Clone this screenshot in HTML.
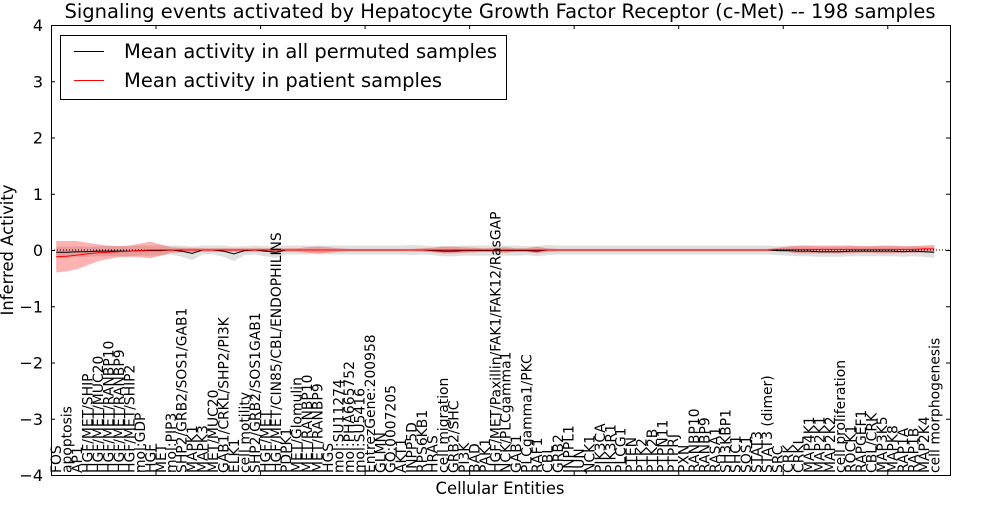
<!DOCTYPE html>
<html><head><meta charset="utf-8"><style>
body{margin:0;background:#fff}
svg{font-family:"DejaVu Sans","Liberation Sans",sans-serif}
</style></head><body>
<svg id="chart" width="1000" height="500" xmlns="http://www.w3.org/2000/svg">
<rect width="1000" height="500" fill="#fff"/>
<text x="500" y="18" font-size="19.5" text-anchor="middle">Signaling events activated by Hepatocyte Growth Factor Receptor (c-Met) -- 198 samples</text>
<g id="bands"></g>
<g id="lines"></g>
<g id="axes"></g>
<g id="xlabels"></g>
<text x="500" y="494" font-size="16.4" text-anchor="middle">Cellular Entities</text>
<text transform="translate(13,250) rotate(-90)" font-size="16.4" text-anchor="middle">Inferred Activity</text>
<g>
<rect x="60.5" y="35.5" width="446" height="64" fill="#fff" stroke="#000" stroke-width="1"/>
<line x1="74" y1="51.5" x2="104" y2="51.5" stroke="#000" stroke-width="1"/>
<text x="124" y="58" font-size="19.5">Mean activity in all permuted samples</text>
<line x1="74" y1="80.5" x2="104" y2="80.5" stroke="#f00" stroke-width="1"/>
<text x="124" y="87" font-size="19.5">Mean activity in patient samples</text>
</g>
</svg>
<script>
const categories = ["FOS","apoptosis","AP1","HGF/MET/SHIP","HGF/MET/MUC20","HGF/MET/RANBP10","HGF/MET/RANBP9","HGF/MET/SHIP2","mol:GDP","HGF",
"MET","mol:PIP3","SHP2/GRB2/SOS1/GAB1","MAPK1","MAPK3","MET/MUC20","GAB1/CRKL/SHP2/PI3K","ELK1","cell motility","SHP2/GRB2/SOS1GAB1",
"HGF/MET","HGF/MET/CIN85/CBL/ENDOPHILINS","PDPK1","MET/Glomulin","MET/RANBP10","MET/RANBP9","HGS","mol:SU11274","mol:PHA665752","mol:SU5416",
"EntrezGene:200958","GLMN","GO:0007205","AKT1","INPP5D","RPS6KB1","HRAS","cell migration","GRB2/SHC","PI3K",
"BAD","PAK1","HGF/MET/Paxillin/FAK1/FAK12/RasGAP","NCK/PLCgamma1","GAB1","PLCgamma1/PKC","RAF1","CBL","GRB2","INPPL1",
"JUN","NCK1","PIK3CA","PIK3R1","PLCG1","PTEN","PTK2","PTK2B","PTPN11","PTPRJ",
"PXN","RANBP10","RANBP9","RASA1","SH3KBP1","SHC1","SOS1","STAT3","STAT3 (dimer)","SRC",
"CRK","CRKL","MAP4K1","MAP2K1","MAP2K2","cell proliferation","ROCK1","RAPGEF1","CBL/CRK","MAP3K5",
"MAPK8","RAP1A","RAP1B","MAP2K4","cell morphogenesis"];
const patientMean = [-0.12,-0.11,-0.09,-0.07,-0.05,-0.04,-0.03,-0.02,-0.01,0,
0,0,0,0,0,0,0,0,0,0,
0,0,0,0,0,0,0,0,0,0,
0,0,0,0,0,0,0,0,0,0,
0,0,0,0,0,0,0,0,0,0,
0,0,0,0,0,0,0,0,0,0,
0,0,0,0,0,0,0,0,0,0.01,
0.01,0.01,0.01,0.01,0.01,0.01,0.01,0.01,0.01,0.01,
0.01,0.01,0.01,0.02,0.02];
const patientSpread = [0.28,0.27,0.25,0.2,0.15,0.12,0.1,0.1,0.12,0.15,
0.1,0.05,0.04,0.04,0.03,0.03,0.03,0.03,0.03,0.03,
0.03,0.03,0.03,0.03,0.05,0.06,0.05,0.03,0.02,0.02,
0.02,0.02,0.02,0.02,0.02,0.03,0.04,0.06,0.06,0.05,
0.04,0.03,0.04,0.05,0.03,0.03,0.06,0.03,0.02,0.02,
0.02,0.02,0.02,0.02,0.02,0.02,0.02,0.02,0.02,0.02,
0.02,0.02,0.02,0.02,0.02,0.02,0.02,0.02,0.02,0.03,
0.05,0.07,0.07,0.07,0.07,0.07,0.07,0.06,0.06,0.07,
0.07,0.06,0.06,0.06,0.07];
const permutedMean = [-0.04,-0.04,-0.03,-0.03,-0.02,-0.02,-0.02,-0.02,-0.01,-0.01,
-0.01,0,-0.02,-0.06,0,0,-0.02,-0.07,-0.01,0,
-0.02,-0.04,0,0,0,0,0,0,0,0,
0,0,0,0,0,0,-0.01,-0.02,-0.02,-0.01,
-0.01,-0.01,-0.01,-0.01,-0.01,-0.01,-0.02,0,0,0,
0,0,0,0,0,0,0,0,0,0,
0,0,0,0,0,0,0,0,0,-0.01,
-0.01,-0.02,-0.02,-0.03,-0.03,-0.03,-0.02,-0.02,-0.02,-0.02,
-0.02,-0.03,-0.02,-0.03,-0.04];
const permutedSpread = [0.1,0.1,0.1,0.09,0.09,0.09,0.09,0.09,0.09,0.09,
0.09,0.08,0.1,0.12,0.08,0.08,0.1,0.13,0.08,0.08,
0.09,0.1,0.08,0.08,0.08,0.08,0.08,0.08,0.08,0.08,
0.08,0.08,0.08,0.08,0.09,0.08,0.08,0.09,0.09,0.09,
0.09,0.09,0.09,0.09,0.09,0.08,0.09,0.09,0.08,0.08,
0.08,0.08,0.08,0.08,0.08,0.08,0.08,0.08,0.08,0.08,
0.08,0.08,0.08,0.08,0.08,0.08,0.08,0.08,0.08,0.08,
0.09,0.09,0.09,0.09,0.09,0.09,0.09,0.09,0.09,0.09,
0.09,0.09,0.09,0.09,0.1];
const yTicks = [-4,-3,-2,-1,0,1,2,3,4];
const xTicks = [0,10,20,30,40,50,60,70,80];

const NS="http://www.w3.org/2000/svg";
const L=51,R=950,T=25,B=475,XMAX=86;
const xs=i=>L+(i)*(R-L)/XMAX;
const ys=v=>T+(4-v)*(B-T)/8;
function mk(tag,attrs,parent){const e=document.createElementNS(NS,tag);for(const k in attrs)e.setAttribute(k,attrs[k]);parent.appendChild(e);return e;}
const bands=document.getElementById('bands'),lines=document.getElementById('lines'),axes=document.getElementById('axes'),xl=document.getElementById('xlabels');
function bandPath(m,s){let up=[],dn=[];m.forEach((v,i)=>{up.push(xs(i+0.5).toFixed(1)+','+ys(v+s[i]).toFixed(1));dn.unshift(xs(i+0.5).toFixed(1)+','+ys(v-s[i]).toFixed(1));});return 'M'+up.join('L')+'L'+dn.join('L')+'Z';}
function linePath(m){return 'M'+m.map((v,i)=>xs(i+0.5).toFixed(1)+','+ys(v).toFixed(1)).join('L');}
let p=mk('path',{d:bandPath(permutedMean,permutedSpread),fill:'#000','fill-opacity':0.12,stroke:'none'},bands);


p=mk('path',{d:bandPath(patientMean,patientSpread),fill:'#f00','fill-opacity':0.3,stroke:'none'},bands);


p=mk('line',{x1:L,x2:R,y1:ys(0),y2:ys(0),stroke:'#000','stroke-dasharray':'1,2','stroke-width':1},lines);


p=mk('path',{d:linePath(permutedMean),fill:'none',stroke:'#000','stroke-width':1},lines);


p=mk('path',{d:linePath(patientMean),fill:'none',stroke:'#f00','stroke-width':1},lines);


p=mk('rect',{x:L+0.5,y:T+0.5,width:R-L,height:B-T,fill:'none',stroke:'#000','stroke-width':1},axes);


yTicks.forEach(v=>{const y=ys(v)+0.5;
 let t=mk('path',{d:`M${L},${y}h4M${R},${y}h-4`,stroke:'#000'},axes);
 
 
 let tx=mk('text',{x:L-8,y:y+5.5,'font-size':16,'text-anchor':'end'},axes);tx.textContent=(v<0?'\u2212'+(-v):v);
 
 
});
xTicks.forEach(v=>{const x=xs(v)+0.5;
 let t=mk('path',{d:`M${x},${T}v4M${x},${B}v-4`,stroke:'#000'},axes);
 
 
});
categories.forEach((c,i)=>{const x=xs(i+0.5)+5;
 let tx=mk('text',{transform:`translate(${x.toFixed(1)},${B-2}) rotate(-90)`,'font-size':13.9},xl);tx.textContent=c;
 
 
});
</script>
</body></html>
